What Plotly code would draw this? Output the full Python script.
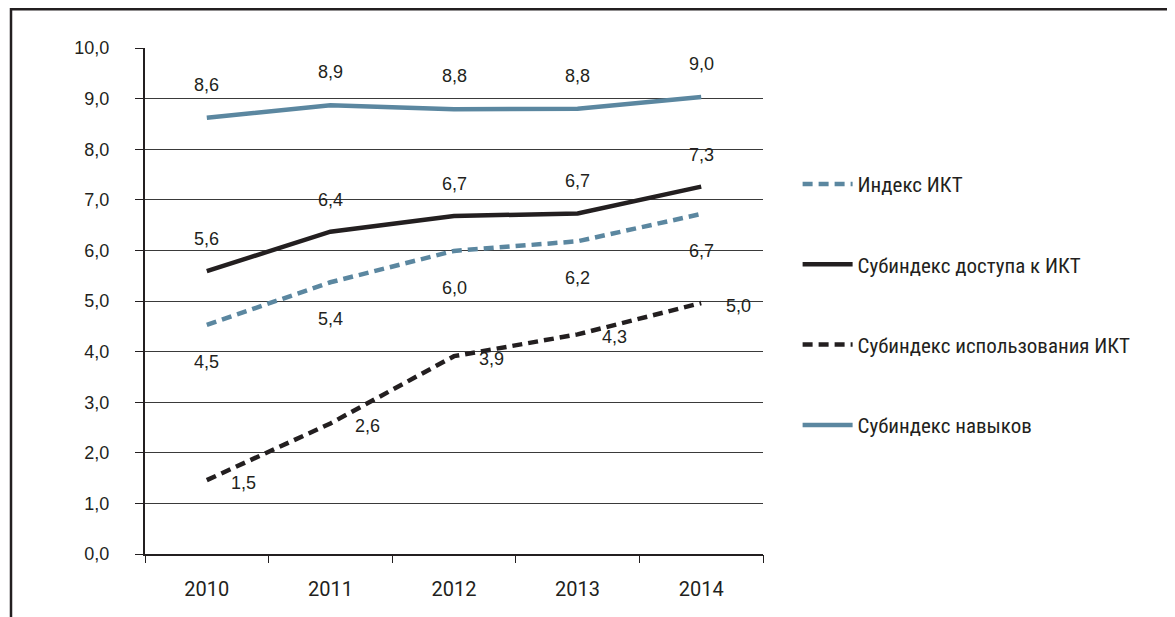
import plotly.graph_objects as go

years = ["2010", "2011", "2012", "2013", "2014"]
ikt_index = [4.53, 5.37, 5.99, 6.18, 6.72]
access = [5.59, 6.37, 6.68, 6.73, 7.26]
usage = [1.46, 2.58, 3.91, 4.34, 4.96]
skills = [8.62, 8.87, 8.79, 8.80, 9.03]
names = ["Индекс ИКТ", "Субиндекс доступа к ИКТ",
         "Субиндекс использования ИКТ", "Субиндекс навыков"]
y_ticks = [0, 1, 2, 3, 4, 5, 6, 7, 8, 9, 10]

BLUE = "#5b87a0"
BLACK = "#231f20"
NUM_FONT = "Liberation Sans, Arial, sans-serif"
NARROW = "Roboto Condensed, Liberation Sans Narrow, Roboto, sans-serif"
XFONT = "Roboto, Liberation Sans, sans-serif"

# page body has an 8px margin; figure is shifted by it
OFF = 8
W, H = 1175 - OFF, 617 - OFF
L, T, PW, PH = 145 - OFF, 48 - OFF, 618, 506

series = [
    (names[0], ikt_index, BLUE, "10px,6px", 0, -37),
    (names[1], access, BLACK, "solid", 0, 32),
    (names[2], usage, BLACK, "10px,6px", 37, -3),
    (names[3], skills, BLUE, "solid", 0, 33),
]

fig = go.Figure()
annotations = []
for i, (nm, vals, col, dash, xs, ys) in enumerate(series):
    fig.add_trace(go.Scatter(
        x=list(range(len(years))), y=vals, name=nm, mode="lines",
        line=dict(color=col, width=4.5, dash=dash),
        legendgroup=f"g{i}", hoverinfo="skip",
    ))
    for k, yv in enumerate(vals):
        annotations.append(dict(
            x=k, y=yv, xref="x", yref="y",
            text=f"{yv:.1f}".replace(".", ","),
            showarrow=False, xshift=xs, yshift=ys,
            font=dict(family=NUM_FONT, size=18, color=BLACK),
        ))

fig.update_layout(
    width=W, height=H,
    margin=dict(l=L, r=W - L - PW, t=T, b=H - T - PH, pad=0),
    paper_bgcolor="white", plot_bgcolor="white",
    showlegend=True,
    legend=dict(
        x=1.056, y=0.771, xanchor="left", yanchor="top",
        font=dict(family=NARROW, size=21, color=BLACK),
        tracegroupgap=50, itemwidth=50,
        bgcolor="rgba(0,0,0,0)",
    ),
    annotations=annotations,
    xaxis=dict(
        tickmode="array", tickvals=list(range(len(years))), ticktext=years,
        showgrid=False, showline=True, linecolor=BLACK, linewidth=2,
        ticks="", ticklabelstandoff=16,
        tickfont=dict(family=XFONT, size=20, color=BLACK),
        range=[-0.5, 4.5], fixedrange=True, zeroline=False,
    ),
    xaxis2=dict(
        overlaying="x", matches="x", range=[-0.5, 4.5],
        tickmode="array", tickvals=[-0.5, 0.5, 1.5, 2.5, 3.5, 4.5],
        showticklabels=False, ticks="outside", ticklen=8, tickcolor=BLACK,
        tickwidth=1, showgrid=False, showline=False, zeroline=False,
        side="bottom", anchor="y",
    ),
    yaxis=dict(
        range=[0, 10], tickvals=y_ticks,
        ticktext=[f"{v:.1f}".replace(".", ",") for v in y_ticks],
        showgrid=True, gridcolor="#3a3a3a", gridwidth=1,
        showline=True, linecolor=BLACK, linewidth=2,
        ticks="outside", ticklen=8, tickcolor=BLACK, tickwidth=1,
        ticklabelstandoff=22,
        tickfont=dict(family=NUM_FONT, size=18, color=BLACK),
        zeroline=False, fixedrange=True,
    ),
    shapes=[
        dict(type="line", xref="paper", yref="paper",
             x0=(2 - L) / PW, x1=(1180 - L) / PW,
             y0=(T + PH - 1) / PH, y1=(T + PH - 1) / PH,
             line=dict(color=BLACK, width=3)),
        dict(type="line", xref="paper", yref="paper",
             x0=(3 - L) / PW, x1=(3 - L) / PW,
             y0=(T + PH) / PH, y1=(T + PH - 620) / PH,
             line=dict(color=BLACK, width=2.5)),
    ],
)
# invisible trace to activate the boundary-tick axis
fig.add_trace(go.Scatter(x=[0], y=[0], xaxis="x2", mode="markers",
                         marker=dict(opacity=0), showlegend=False,
                         hoverinfo="skip"))

fig.write_html("out.html")
